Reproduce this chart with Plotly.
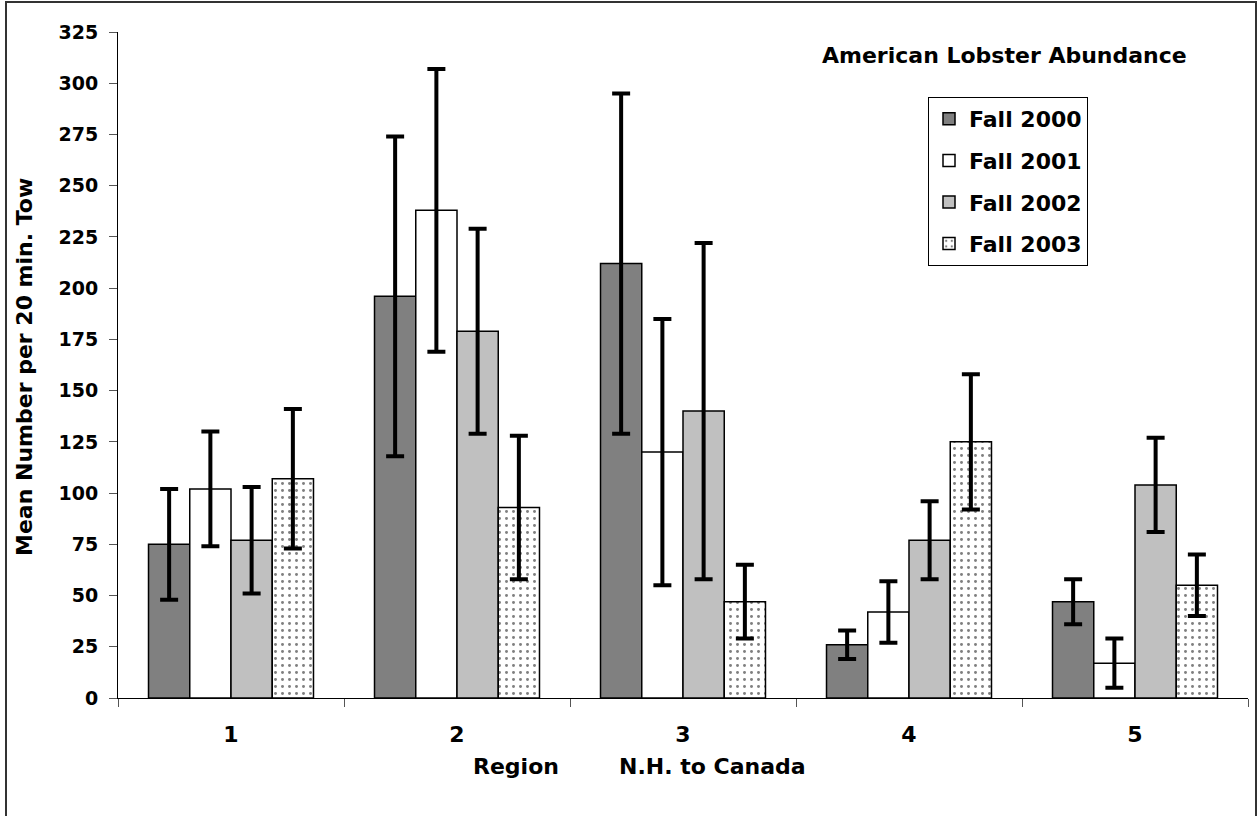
import plotly.graph_objects as go

regions = ["1", "2", "3", "4", "5"]
series_names = ["Fall 2000", "Fall 2001", "Fall 2002", "Fall 2003"]

fall2000 = [75, 196, 212, 26, 47]
fall2000_err = [27, 78, 83, 7, 11]
fall2001 = [102, 238, 120, 42, 17]
fall2001_err = [28, 69, 65, 15, 12]
fall2002 = [77, 179, 140, 77, 104]
fall2002_err = [26, 50, 82, 19, 23]
fall2003 = [107, 93, 47, 125, 55]
fall2003_err = [34, 35, 18, 33, 15]

y_ticks = list(range(0, 326, 25))

FONT = "DejaVu Sans"

values = [fall2000, fall2001, fall2002, fall2003]
errors = [fall2000_err, fall2001_err, fall2002_err, fall2003_err]
fills = ["#808080", "#FFFFFF", "#C0C0C0", "#FFFFFF"]

fig = go.Figure()
for i, (name, v, e, c) in enumerate(zip(series_names, values, errors, fills)):
    marker = dict(color=c, line=dict(color="black", width=1.5))
    if i == 3:
        marker["pattern"] = dict(shape=".", fgcolor="black", bgcolor="white",
                                 size=7, solidity=0.14, fillmode="overlay")
    fig.add_trace(go.Bar(
        x=regions, y=v, name=name, marker=marker,
        legendgroup=name,
        error_y=dict(type="data", array=e, symmetric=True, color="black",
                     thickness=4, width=9),
    ))

L, R, T, B = 118, 9, 32, 118
W, H = 1257, 816
pw, ph = W - L - R, H - T - B

def px(x):
    return (x - L) / pw

def py(y):
    return (H - B - y) / ph

fig.update_layout(
    width=W, height=H,
    margin=dict(l=L, r=R, t=T, b=B, autoexpand=False),
    paper_bgcolor="white", plot_bgcolor="white",
    font=dict(family=FONT, size=19, color="black", weight="bold"),
    barmode="group", bargap=0.27, bargroupgap=0,
    showlegend=True,
    legend=dict(x=px(928), y=py(97), xanchor="left", yanchor="top",
                bordercolor="black", borderwidth=1, bgcolor="white",
                font=dict(family=FONT, size=22, weight="bold"),
                tracegroupgap=10, traceorder="grouped"),
    xaxis=dict(type="category", tickson="boundaries", ticks="outside",
               ticklen=8, tickcolor="#555555", tickwidth=1,
               showline=True, linecolor="black", linewidth=1,
               showgrid=False, zeroline=False, ticklabelstandoff=17,
               tickfont=dict(family=FONT, size=22, weight="bold")),
    yaxis=dict(range=[0, 325], tickvals=y_ticks, ticks="outside",
               ticklen=8, tickcolor="#555555", tickwidth=1,
               showline=True, linecolor="black", linewidth=1,
               showgrid=False, zeroline=False, ticklabelstandoff=7,
               tickfont=dict(family=FONT, size=19, weight="bold")),
    annotations=[
        dict(text="American Lobster Abundance", x=px(1004), y=py(55),
             xref="paper", yref="paper", xanchor="center", yanchor="middle",
             showarrow=False, font=dict(family=FONT, size=22, weight="bold")),
        dict(text="Region", x=px(516), y=py(766),
             xref="paper", yref="paper", xanchor="center", yanchor="middle",
             showarrow=False, font=dict(family=FONT, size=22, weight="bold")),
        dict(text="N.H. to Canada", x=px(617), y=py(766),
             xref="paper", yref="paper", xanchor="left", yanchor="middle",
             showarrow=False, font=dict(family=FONT, size=22, weight="bold")),
        dict(text="Mean Number per 20 min. Tow", x=px(24), y=py(367),
             xref="paper", yref="paper", xanchor="center", yanchor="middle",
             textangle=-90, showarrow=False,
             font=dict(family=FONT, size=22, weight="bold")),
    ],
    shapes=[
        dict(type="rect", xref="paper", yref="paper",
             x0=px(6), x1=px(1256), y0=py(830), y1=py(2),
             line=dict(color="#333333", width=2), fillcolor="rgba(0,0,0,0)",
             layer="below"),
    ],
)

fig.write_html("out.html",
               config={"displayModeBar": False},
               post_script="document.body.style.margin='0';"
                           "document.body.style.overflow='hidden';")
